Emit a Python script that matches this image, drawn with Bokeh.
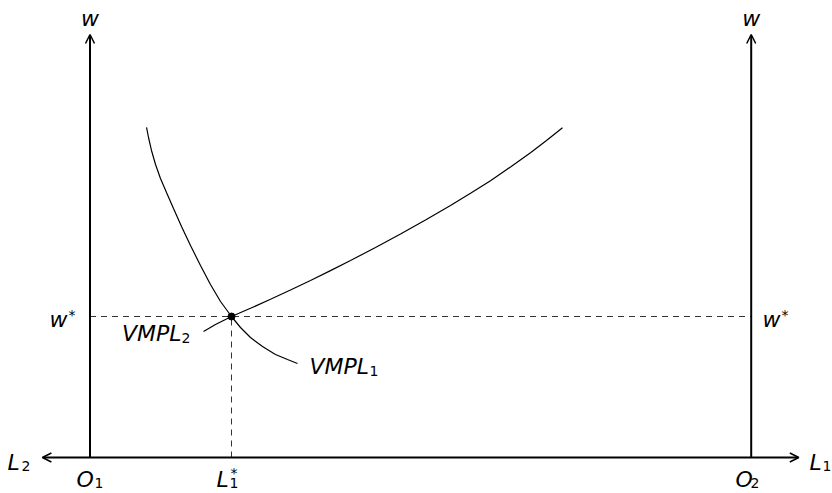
from bokeh.plotting import figure
from bokeh.models import Arrow, OpenHead, Label, Range1d
from bokeh.embed import file_html
from bokeh.resources import INLINE

# ---- data ----
vmpl1_x = [0.855, 0.885, 0.930, 0.991, 1.066, 1.157, 1.263, 1.384, 1.520, 1.671,
           1.822, 1.974, 2.140, 2.276, 2.427, 2.609, 2.805, 2.987, 3.138]
vmpl1_y = [4.681, 4.539, 4.355, 4.156, 3.957, 3.759, 3.532, 3.277, 3.007, 2.723,
           2.454, 2.213, 2.000, 1.844, 1.702, 1.574, 1.461, 1.390, 1.333]
vmpl2_x = [1.717, 1.898, 2.140, 2.427, 2.730, 3.032, 3.335, 3.637, 3.940, 4.318,
           4.696, 5.074, 5.452, 5.755, 6.057, 6.360, 6.662, 6.904, 7.146]
vmpl2_y = [1.787, 1.887, 2.000, 2.116, 2.244, 2.376, 2.511, 2.651, 2.794, 2.979,
           3.170, 3.369, 3.574, 3.749, 3.926, 4.121, 4.323, 4.496, 4.678]
L1_star = 2.14
w_star = 2.0
O1 = 0.0
O2 = 10.0
w_top = 6.0
L_left = -0.72
L_right = 10.72

# ---- layout helpers (screen px -> data) ----
SX, SY, X0, Y0 = 66.12, 70.5, 89.5, 457.0
W, H = 832, 493


def dx(px):
    return (px - X0) / SX


def dy(py):
    return (Y0 - py) / SY


p = figure(width=W, height=H, output_backend="svg", toolbar_location=None,
           x_range=Range1d(dx(0), dx(W)), y_range=Range1d(dy(H), dy(0)),
           x_axis_location=None, y_axis_location=None,
           min_border=0, min_border_left=0, min_border_right=0,
           min_border_top=0, min_border_bottom=0)
p.grid.visible = False
p.outline_line_color = None
p.background_fill_color = "white"

DASH = "6 5"
p.line([O1, O2], [w_star, w_star], line_dash=DASH, line_color="#333333", line_width=1)
p.line([L1_star, L1_star], [0, w_star], line_dash=DASH, line_color="#333333", line_width=1)

p.line(vmpl1_x, vmpl1_y, line_color="black", line_width=1.2)
p.line(vmpl2_x, vmpl2_y, line_color="black", line_width=1.2)
p.scatter([L1_star], [w_star], size=7, color="black")


def head():
    return OpenHead(size=9, line_width=1.5, line_color="black")


p.add_layout(Arrow(x_start=L_left, y_start=0, x_end=L_right, y_end=0,
                   start=head(), end=head(), line_width=2, line_color="black"))
p.add_layout(Arrow(x_start=O1, y_start=0, x_end=O1, y_end=w_top,
                   end=head(), line_width=2, line_color="black"))
p.add_layout(Arrow(x_start=O2, y_start=0, x_end=O2, y_end=w_top,
                   end=head(), line_width=2, line_color="black"))

FONT = "DejaVu Sans"
BIG, SMALL = 22, 14


def lab(x, py, text, size=BIG, italic=True, align="left"):
    # compensate the descent that Bokeh adds below an alphabetic baseline
    shift = 0.235 * size
    p.add_layout(Label(x=x, y=dy(py - shift), text=text, text_font=FONT,
                       text_font_size=f"{size}px",
                       text_font_style="italic" if italic else "normal",
                       text_align=align, text_baseline="alphabetic",
                       text_color="black"))


# axis titles
lab(O1, 23, "w", align="center")
lab(O2, 23, "w", align="center")
# w* labels
lab(dx(49), 324, "w")
lab(dx(68), 318, "*", size=SMALL, italic=False)
lab(dx(762), 324, "w")
lab(dx(781), 318, "*", size=SMALL, italic=False)
# curve labels
lab(dx(181), 338, "VMPL", align="right")
lab(dx(181), 341, "2", size=SMALL, italic=False)
lab(dx(309), 371, "VMPL")
lab(dx(369), 374, "1", size=SMALL, italic=False)
# horizontal axis labels
lab(dx(7), 467, "L")
lab(dx(21), 469, "2", size=SMALL, italic=False)
lab(dx(809), 467, "L")
lab(dx(822), 469, "1", size=SMALL, italic=False)
BOT = 484
lab(dx(76), BOT, "O")
lab(dx(94), BOT + 2, "1", size=SMALL, italic=False)
lab(dx(735), BOT, "O")
lab(dx(750), BOT + 2, "2", size=SMALL, italic=False)
lab(dx(216), BOT, "L")
lab(dx(229), BOT + 2, "1", size=SMALL, italic=False)
lab(dx(230), BOT - 8, "*", size=SMALL, italic=False)

open("out.html", "w").write(file_html(p, INLINE))
